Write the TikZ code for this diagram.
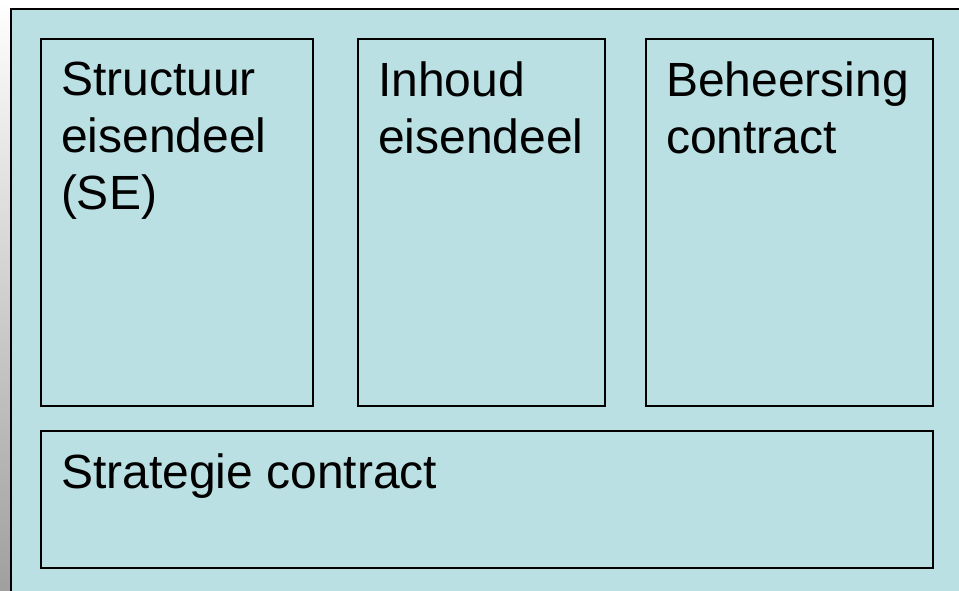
\documentclass[tikz,border=0pt]{standalone}
\usepackage{fontspec}
\setmainfont{Liberation Sans}
\usepackage{tikz}
\usetikzlibrary{positioning}
\definecolor{panelblue}{RGB}{186,224,227}

\begin{document}
\begin{tikzpicture}[x=1pt,y=-1pt]
        \tikzstyle{panel}=[
            rectangle,
            draw=black,
            line width=1.6pt,
            fill=panelblue,
            anchor=north west,
            outer sep=0pt,
            inner sep=0pt
        ]
        \tikzstyle{lbl}=[
            anchor=north west,
            inner sep=0pt,
            outer sep=0pt,
            align=left,
            text=black,
            font=\fontsize{48}{57}\selectfont
        ]

        \clip (0,0) rectangle (959,591);
        \fill[white] (0,0) rectangle (959,591);
        \shade[top color=white, bottom color=gray!75] (0,0) rectangle (12,591);
        % \fill[gray!30] (300,0) ellipse (40 and 6);

        \node[panel, line width=2pt, minimum width=980, minimum height=600] (slide) at (11,9){};
        \node[panel, minimum width=272, minimum height=367] (SE) at (41,39){};
        \node[panel, minimum width=247, minimum height=367] (IE) at (358,39){};
        \node[panel, minimum width=287, minimum height=367] (BC) at (646,39){};
        \node[panel, minimum width=892, minimum height=137] (SC) at (41,431){};

        \node[lbl] (SEtext) at ([xshift=20pt,yshift=-23pt]SE.north west){Structuur\\eisendeel\\(SE)};
        \node[lbl] (IEtext) at ([xshift=20pt,yshift=-23pt]IE.north west){Inhoud\\eisendeel};
        \node[lbl] (BCtext) at ([xshift=20pt,yshift=-23pt]BC.north west){Beheersing\\contract};
        \node[lbl] (SCtext) at ([xshift=20pt,yshift=-23pt]SC.north west){Strategie contract};

    \end{tikzpicture}
\end{document}
